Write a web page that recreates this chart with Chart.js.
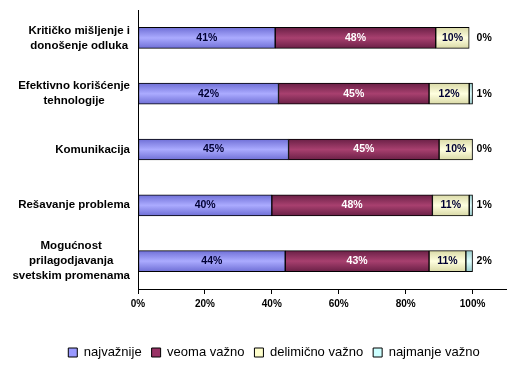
<!DOCTYPE html>
<html>
<head>
<meta charset="utf-8">
<script src="https://cdn.jsdelivr.net/npm/chart.js@4/dist/chart.umd.min.js"></script>
<style>
  html, body { margin: 0; padding: 0; background: #fff; }
  #wrap { width: 507px; height: 371px; }
</style>
</head>
<body>
<div id="wrap"><canvas id="chart"></canvas></div>
<script>
// kategorije (y osa)
const categories = [
  ["Kritičko mišljenje i", "donošenje odluka"],
  ["Efektivno korišćenje", "tehnologije"],
  ["Komunikacija"],
  ["Rešavanje problema"],
  ["Mogućnost", "prilagodjavanja", "svetskim promenama"]
];
const seriesNames = ["najvažnije", "veoma važno", "delimično važno", "najmanje važno"];
const najvaznije = [41, 42, 45, 40, 44];
const veomaVazno = [48, 45, 45, 48, 43];
const delimicnoVazno = [10, 12, 10, 11, 11];
const najmanjeVazno = [0, 1, 0, 1, 2];
const xTicks = [0, 20, 40, 60, 80, 100];

const FONT = "Arial, 'Liberation Sans', sans-serif";
const baseColors = ["#9999FF", "#993366", "#FFFFCC", "#CCFFFF"];
const edgeColors = ["#6F6FD6", "#6A2046", "#D9D9A6", "#99CCCC"];
const midColors = ["#ABABFF", "#A8406F", "#FFFFE0", "#E0FFFF"];
const labelColors = ["#000033", "#FFFFFF", "#000033", "#000000"];
const BAR = 21;

function barFill(i) {
  return (ctx) => {
    const chart = ctx.chart;
    const y = chart.scales && chart.scales.y;
    if (!y || ctx.dataIndex === undefined || !isFinite(y.getPixelForValue(ctx.dataIndex))) return baseColors[i];
    const cy = y.getPixelForValue(ctx.dataIndex);
    const g = chart.ctx.createLinearGradient(0, cy - BAR / 2, 0, cy + BAR / 2);
    g.addColorStop(0, edgeColors[i]);
    g.addColorStop(0.5, midColors[i]);
    g.addColorStop(1, edgeColors[i]);
    return g;
  };
}

const valueLabels = {
  id: "valueLabels",
  afterDatasetsDraw(chart) {
    const c = chart.ctx;
    const x = chart.scales.x;
    c.save();
    c.font = "bold 10.5px " + FONT;
    c.textBaseline = "middle";
    chart.data.datasets.forEach((ds, di) => {
      const meta = chart.getDatasetMeta(di);
      meta.data.forEach((bar, i) => {
        const v = ds.data[i];
        c.fillStyle = labelColors[di];
        if (di === 3) {
          c.textAlign = "left";
          c.fillText(v + "%", x.getPixelForValue(100) + 4, bar.y);
        } else {
          c.textAlign = "center";
          c.fillText(v + "%", (bar.x + bar.base) / 2, bar.y);
        }
      });
    });
    c.restore();
  }
};

const categoryLabels = {
  id: "categoryLabels",
  afterDraw(chart) {
    const c = chart.ctx;
    const y = chart.scales.y;
    const right = 130;
    const lh = 15;
    c.save();
    c.font = "bold 11.5px " + FONT;
    c.fillStyle = "#000";
    c.textAlign = "center";
    c.textBaseline = "middle";
    categories.forEach((lines, i) => {
      const w = Math.max(...lines.map(l => c.measureText(l).width));
      const cx = right - w / 2;
      const cy = y.getPixelForValue(i);
      lines.forEach((l, k) => {
        c.fillText(l, cx, cy + (k - (lines.length - 1) / 2) * lh);
      });
    });
    c.restore();
  }
};

// legenda je u originalu malo pomjerena udesno
const legendShift = {
  id: "legendShift",
  afterLayout(chart) {
    chart.legend.left += 21;
    chart.legend.right += 21;
  }
};

const values = [najvaznije, veomaVazno, delimicnoVazno, najmanjeVazno];

new Chart(document.getElementById("chart"), {
  type: "bar",
  data: {
    labels: categories.map(l => l.join(" ")),
    datasets: values.map((d, i) => ({
      label: seriesNames[i],
      data: d,
      backgroundColor: barFill(i),
      borderColor: "#000",
      borderWidth: 1,
      borderSkipped: false,
      barThickness: BAR
    }))
  },
  options: {
    indexAxis: "y",
    responsive: true,
    maintainAspectRatio: false,
    animation: false,
    layout: { padding: { top: 10, right: 1, bottom: 2, left: 0 } },
    scales: {
      x: {
        stacked: true,
        min: 0,
        max: 110,
        afterBuildTicks: (s) => { s.ticks = xTicks.map(v => ({ value: v })); },
        afterFit: (s) => { s.height = 47; },
        grid: { display: true, drawOnChartArea: false, drawTicks: true, tickLength: 5, color: "#000" },
        border: { display: true, color: "#000", width: 1 },
        ticks: {
          color: "#000",
          font: { family: FONT, size: 10, weight: "bold" },
          padding: 4,
          callback: (v) => v + "%"
        }
      },
      y: {
        stacked: true,
        afterFit: (s) => { s.width = 138; },
        grid: { display: false },
        border: { display: true, color: "#000", width: 1 },
        ticks: { display: false }
      }
    },
    plugins: {
      legend: {
        position: "bottom",
        labels: {
          color: "#000",
          font: { family: FONT, size: 13 },
          boxWidth: 9,
          boxHeight: 9,
          padding: 10,
          generateLabels: (chart) => seriesNames.map((n, i) => ({
            text: n,
            fillStyle: baseColors[i],
            strokeStyle: "#000",
            lineWidth: 1,
            datasetIndex: i
          }))
        }
      },
      tooltip: { enabled: false }
    }
  },
  plugins: [valueLabels, categoryLabels, legendShift]
});
</script>
</body>
</html>
